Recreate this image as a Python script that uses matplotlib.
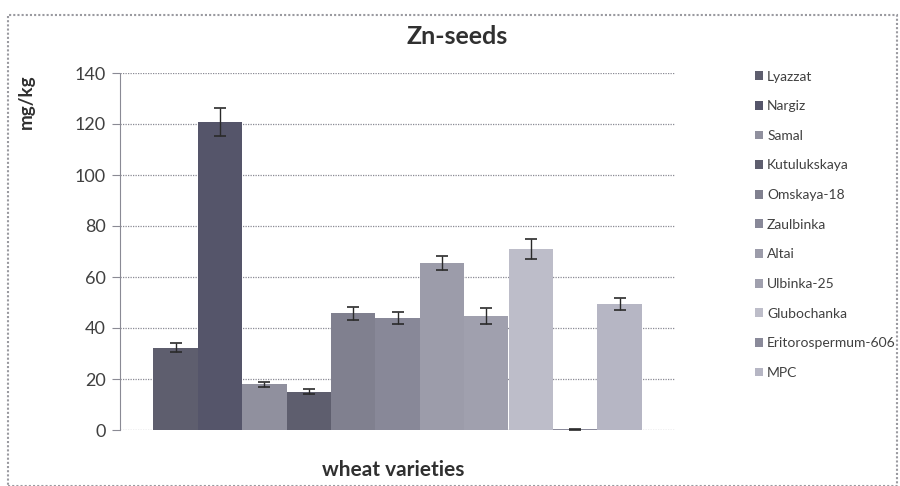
import numpy as np
import matplotlib
matplotlib.use("Agg")
import matplotlib.pyplot as plt
from matplotlib.patches import Rectangle, Patch

plt.rcParams['font.family'] = ['Lato', 'DejaVu Sans']

varieties = ["Lyazzat", "Nargiz", "Samal", "Kutulukskaya", "Omskaya-18", "Zaulbinka",
             "Altai", "Ulbinka-25", "Glubochanka", "Eritorospermum-606", "MPC"]
zn_values = [32.2, 120.8, 18.0, 15.0, 45.8, 43.9, 65.5, 44.7, 71.0, 0.3, 49.4]
zn_errors = [1.8, 5.5, 1.0, 1.0, 2.5, 2.3, 2.7, 3.0, 3.9, 0.2, 2.4]
bar_colors = ["#5e5e6e", "#55556a", "#90909e", "#5e5e6e", "#80808f", "#888898",
              "#9c9caa", "#a0a0ae", "#bdbdc9", "#8a8a9a", "#b6b6c4"]

fig = plt.figure(figsize=(9, 4.86), dpi=100)
ax = fig.add_axes([120/900, 56/486, 555/900, 357/486])

x = np.arange(len(varieties))
ax.bar(x, zn_values, width=1.0, color=bar_colors, zorder=2)
ax.errorbar(x, zn_values, yerr=zn_errors, fmt='none', ecolor='#2a2a2a',
            elinewidth=1, capsize=4, capthick=1.2, zorder=3)

ax.set_xlim(-1.25, 11.25)
ax.set_ylim(0, 140)
ax.set_yticks(range(0, 141, 20))
ax.yaxis.grid(True, linestyle=(0, (1, 1)), color='#8a8a94', linewidth=0.9, zorder=0)
ax.set_xticks([])
for s in ['top', 'right', 'bottom']:
    ax.spines[s].set_visible(False)
ax.spines['left'].set_linestyle((0, (1, 1)))
ax.spines['left'].set_color('#8a8a94')
ax.tick_params(axis='y', length=6, color='#8a8a94', labelsize=13, labelcolor='#404040', pad=4)

ax.set_ylabel("mg/kg", fontsize=13.5, fontweight='bold', color='#303030')
ax.yaxis.set_label_coords(-0.153, 0.92)
fig.text(393/900, 1 - 470/486, "wheat varieties", ha='center', va='center',
         fontsize=15, fontweight='bold', color='#303030')
fig.text(457/900, 1 - 37/486, "Zn-seeds", ha='center', va='center',
         fontsize=18, fontweight='bold', color='#303030')

handles = [Patch(facecolor=c, label=v) for v, c in zip(varieties, bar_colors)]
fig.legend(handles=handles, loc='upper left', bbox_to_anchor=(749/900, 1 - 65/486),
           frameon=False, fontsize=10.0, handlelength=0.6, handleheight=0.6,
           handletextpad=0.3, labelspacing=1.27, labelcolor='#404040', borderaxespad=0)

fig.patches.append(Rectangle((8/900, 0), 889/900, 1 - 15/486, transform=fig.transFigure,
                             fill=False, edgecolor='#9a9aa0', linewidth=1.5, linestyle=(0, (1, 1))))

fig.savefig("out.png", dpi=100)
